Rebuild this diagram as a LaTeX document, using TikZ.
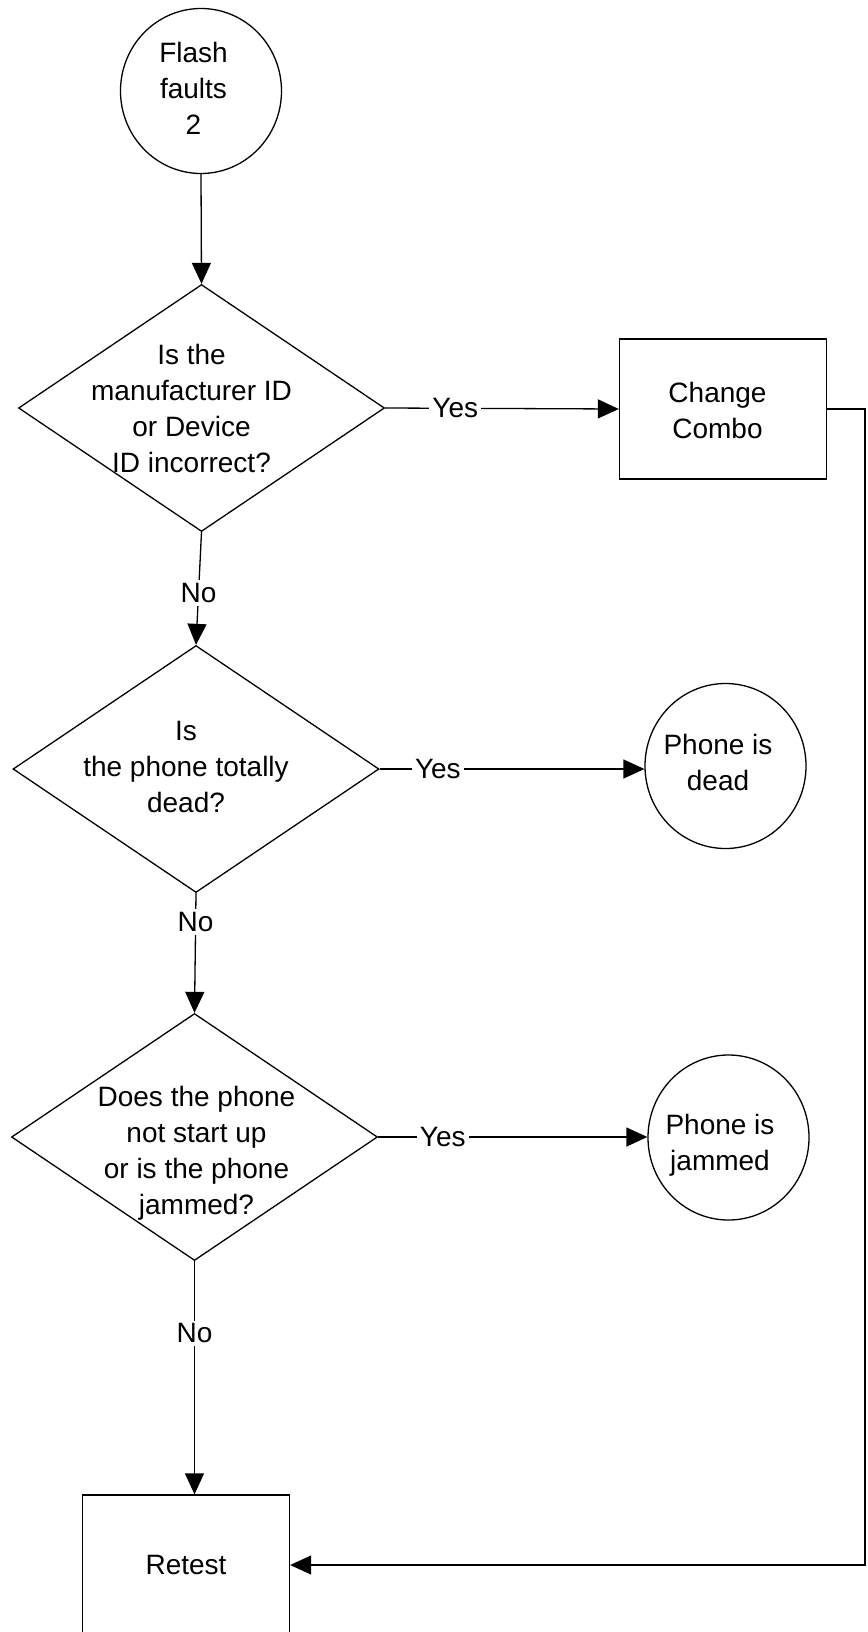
\documentclass[tikz,border=0pt]{standalone}
\usepackage{fontspec}
\setmainfont{Liberation Sans}
\usepackage{tikz}
\usetikzlibrary{arrows.meta,shapes.geometric}

\newcommand\chartfont{\fontsize{28}{36}\selectfont}
\tikzset{
  shapeline/.style={draw, line width=1.3pt, inner sep=0pt},
  decision/.style={shapeline, diamond, minimum width=366pt, minimum height=247pt},
  terminal/.style={shapeline, ellipse, minimum width=161pt, minimum height=165pt},
  process/.style={shapeline, rectangle, minimum width=207pt, minimum height=140pt},
  txt/.style={align=center, font=\chartfont, inner sep=0pt},
  answer/.style={fill=white, inner sep=3pt, font=\chartfont},
  flow/.style={line width=1.3pt, -{Triangle[length=21pt,width=19pt]}}
}

\begin{document}
\begin{tikzpicture}[x=1pt,y=-1pt]
    \useasboundingbox[fill=white] (0,0) rectangle (867,1632);
    % shapes
    \node (flash) [terminal] at (201,91) {};
    \node (d1) [decision] at (201.5,408) {};
    \node (combo) [process] at (723,409) {};
    \node (d2) [decision] at (196,769) {};
    \node (dead) [terminal] at (725.5,766) {};
    \node (d3) [decision] at (194.5,1137) {};
    \node (jam) [terminal] at (728.5,1137.5) {};
    \node (retest) [process] at (186,1565) {};
    % texts
    \node (flasht) [txt] at (193.5,88) {Flash\\faults\\2};
    \node (d1t) [txt] at (191.5,408) {Is the\\manufacturer ID\\or Device\\ID incorrect?};
    \node (combot) [txt] at (717.5,410) {Change\\Combo};
    \node (d2t) [txt] at (186,767) {Is\\the phone totally\\dead?};
    \node (deadt) [txt] at (718,762) {Phone is\\dead};
    \node (d3t) [txt] at (196.5,1153) {Does the phone\\not start up\\or is the phone\\jammed?};
    \node (jamt) [txt] at (720,1145) {Phone is\\jammed};
    \node (retestt) [txt] at (186,1565) {Retest};
    % connectors
    \draw[flow] (flash.south) -- (d1.north);
    \draw[flow] (d1.east) -- node[answer,pos=.3] (yes1) {Yes} (combo.west);
    \draw[flow] (d1.south) -- node[answer,pos=.54] (no1) {No} (d2.north);
    \draw[flow] (d2.east) -- node[answer,pos=.22] (yes2) {Yes} (d2.east -| dead.west);
    \draw[flow] (d2.south) -- node[answer,pos=.24] (no2) {No} (d3.north);
    \draw[flow] (d3.east) -- node[answer,pos=.24] (yes3) {Yes} (d3.east -| jam.west);
    \draw[flow] (d3.south) -- node[answer,pos=.31] (no3) {No} (d3.south |- retest.north);
    \coordinate (back) at (865,409);
    \draw[flow] (combo.east) -- (back) |- (retest.east);
\end{tikzpicture}
\end{document}
